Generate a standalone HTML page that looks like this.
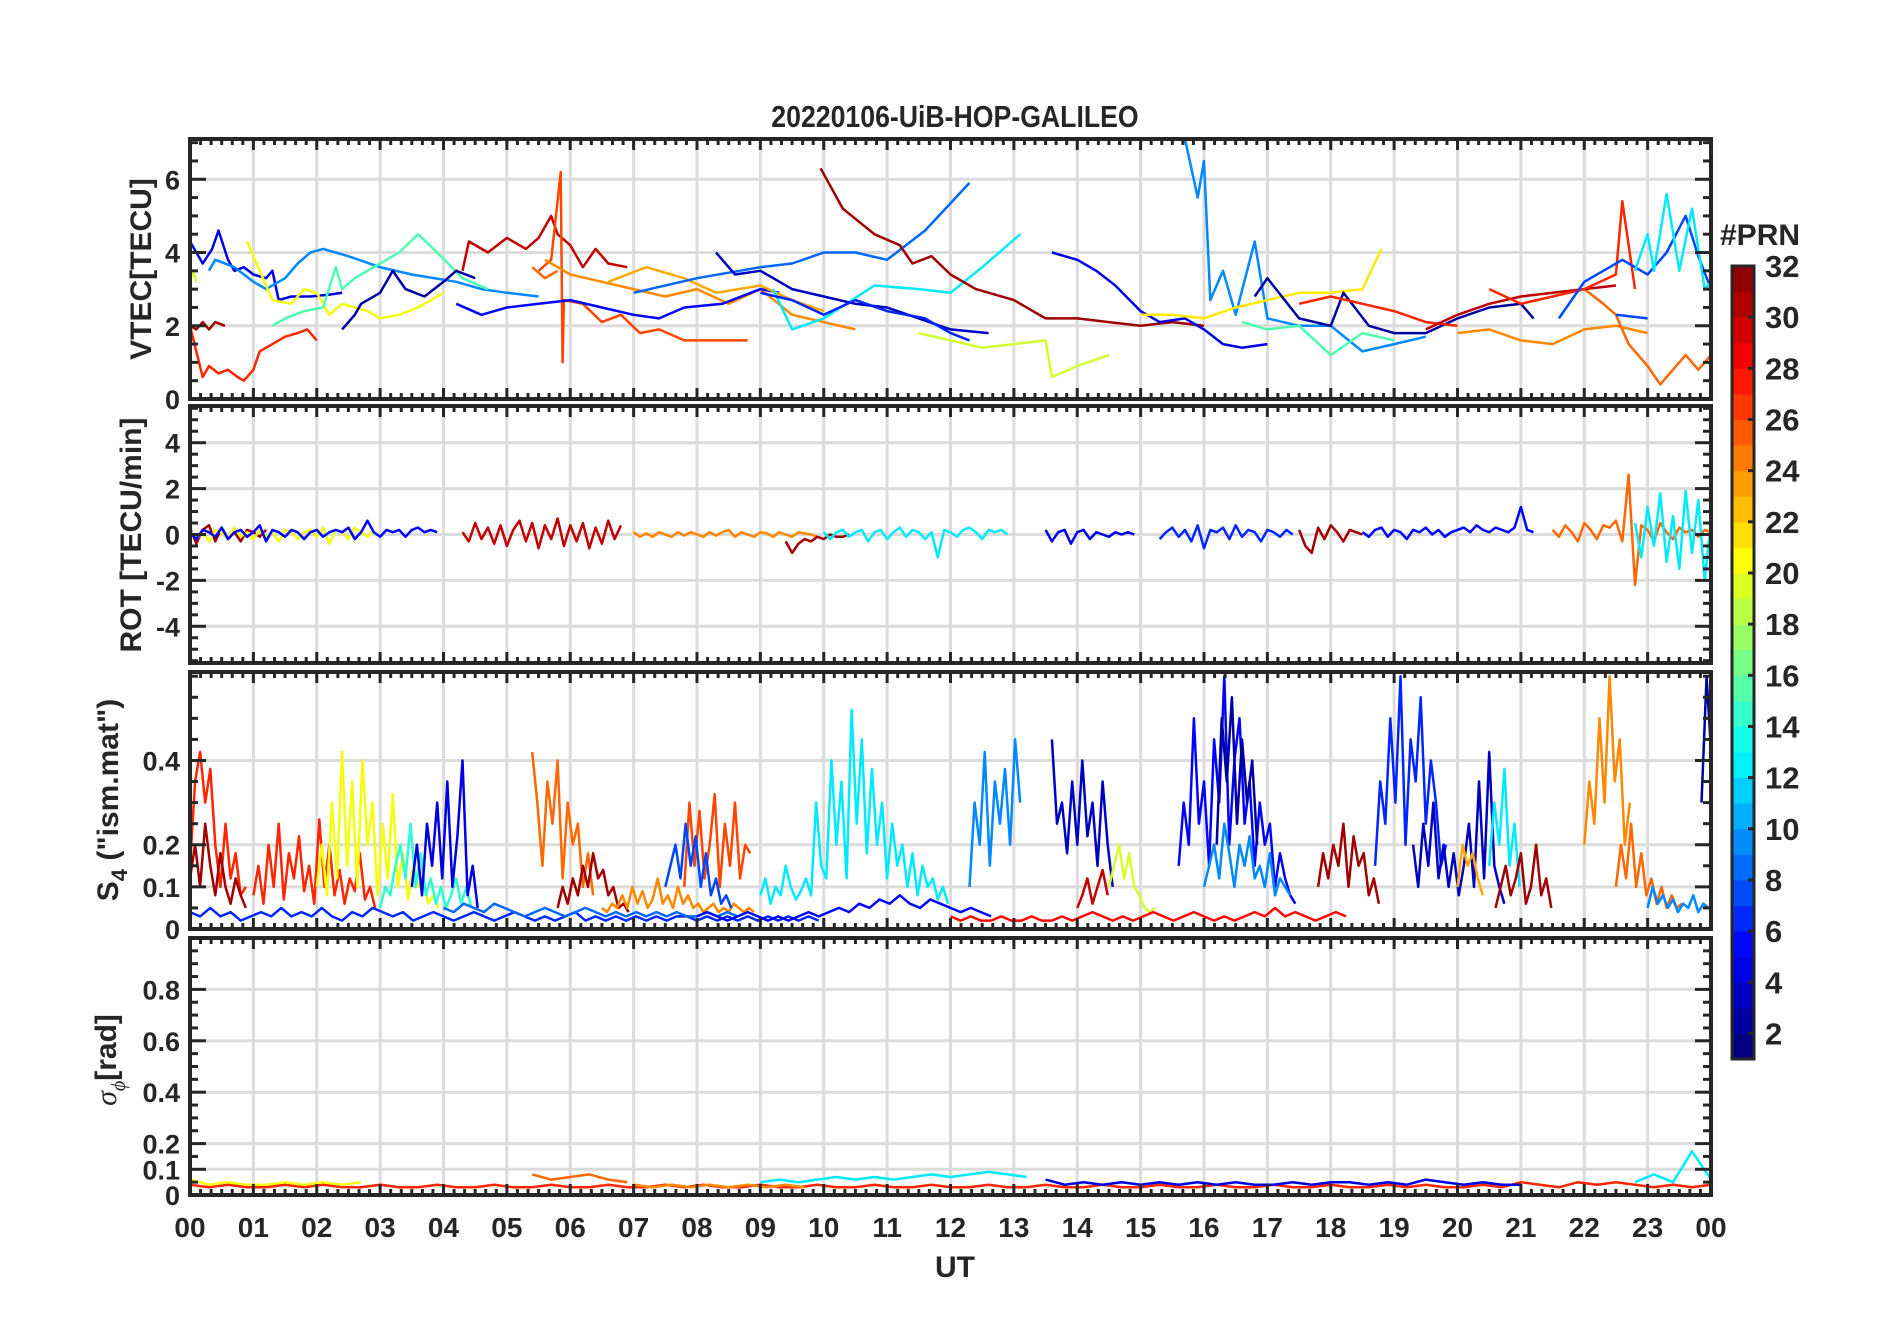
<!DOCTYPE html>
<html><head><meta charset="utf-8"><style>
html,body{margin:0;padding:0;background:#fff;}
svg text{font-family:"Liberation Sans",Arial,sans-serif;font-weight:bold;fill:#262626;}
</style></head><body>
<svg id="fig" width="1902" height="1330" viewBox="0 0 1902 1330" xmlns="http://www.w3.org/2000/svg">
<rect width="1902" height="1330" fill="#fff"/>
<text x="955" y="127" font-size="31" text-anchor="middle" transform="translate(955,0) scale(0.86,1) translate(-955,0)">20220106-UiB-HOP-GALILEO</text>
<g id="panels"></g>
<g id="cbar"></g>
<text x="955" y="1277" font-size="30" text-anchor="middle">UT</text>
</svg>
<script>
// ---------- chart data ----------
const hourLabels = ["00","01","02","03","04","05","06","07","08","09","10","11","12","13","14","15","16","17","18","19","20","21","22","23","00"];
const vtecTicks = [0,2,4,6];
const rotTicks = [-4,-2,0,2,4];
const s4Ticks = [0,0.1,0.2,0.4];
const sigTicks = [0,0.1,0.2,0.4,0.6,0.8];
const cbarTicks = [2,4,6,8,10,12,14,16,18,20,22,24,26,28,30,32];

// VTEC traces: PRN, hours, values
const vtecPrn = [31,27,4,9,20,15,19,2,30,26,25,24,5,23,8,12,31,3,6,19,4,9,21,2,15,27,24,25,30,27,7,12,7];
const vtecHours = [
[0,0.1,0.2,0.3,0.4,0.55],
[0,0.1,0.2,0.3,0.45,0.6,0.75,0.85,1.0,1.1,1.3,1.5,1.7,1.85,2.0],
[0,0.2,0.35,0.45,0.6,0.7,0.85,1.0,1.2,1.3,1.4,1.6,1.9,2.2,2.4],
[0.3,0.4,0.7,1.0,1.2,1.5,1.7,1.9,2.1,2.5,3.0,3.5,4.2,4.6,5.0,5.5],
[0.9,1.0,1.1,1.3,1.6,1.8,2.0,2.2,2.4,2.6,2.8,3.0,3.3,3.6,4.0],
[1.3,1.5,1.8,2.1,2.3,2.4,2.6,3.0,3.3,3.6,3.9,4.3,4.7],
[0,0.05,0.1],
[2.4,2.6,2.7,3.0,3.2,3.4,3.7,4.0,4.2,4.5],
[4.3,4.4,4.7,5.0,5.3,5.5,5.7,5.8,6.0,6.2,6.4,6.6,6.9],
[5.5,5.7,5.85,5.88,5.9,6.2,6.5,6.8,7.1,7.4,7.8,8.3,8.8],
[5.4,5.6,5.8],
[5.6,6.0,6.5,7.0,7.5,8.0,8.5,9.0,9.5,10.0,10.5],
[4.2,4.6,5.0,5.5,6.0,6.5,7.0,7.4,7.8,8.4,9.0,9.3],
[6.6,7.2,7.8,8.3,9.0,9.5,10.0],
[7.0,8.0,9.0,9.5,10.0,10.5,11.0,11.6,12.3],
[9.2,9.5,10.0,10.8,11.5,12.0,12.5,13.1],
[9.95,10.3,10.8,11.2,11.4,11.7,12.0,12.4,13.0,13.5,14.0,14.5,15.0,15.5,16.0],
[8.3,8.6,9.0,9.5,10.0,10.5,11.0,11.5,12.0,12.6],
[9.0,9.5,10.0,10.5,11.0,11.6,12.0,12.3],
[11.5,12.0,12.5,13.0,13.5,13.6,14.0,14.5],
[13.6,14.0,14.3,14.6,15.0,15.3,15.7,16.0,16.3,16.6,17.0],
[15.7,15.9,16.0,16.1,16.3,16.5,16.8,17.0,17.5,18.0,18.5,19.0,19.5],
[15.0,15.5,16.0,16.5,17.0,17.5,18.0,18.5,18.8],
[16.8,17.0,17.5,18.0,18.2,18.6,19.0,19.5,20.0,20.5,21.0,21.2],
[16.6,17.0,17.5,18.0,18.5,19.0],
[17.5,18.0,18.5,19.0,19.5,20.0],
[20.0,20.5,21.0,21.5,22.0,22.5,23.0],
[22.0,22.3,22.5,22.7,23.0,23.2,23.4,23.6,23.8,24.0],
[19.5,20.0,20.5,21.0,21.5,22.0,22.5],
[20.5,21.0,21.5,22.0,22.5,22.6,22.8],
[21.6,22.0,22.6,23.0,23.3,23.6,23.8,24.0],
[22.8,23.0,23.1,23.3,23.5,23.7,23.9,24.0],
[22.5,23.0]];
const vtecValues = [
[2.0,1.9,2.1,1.9,2.1,2.0],
[2.0,1.3,0.6,0.9,0.7,0.8,0.6,0.5,0.8,1.3,1.5,1.7,1.8,1.9,1.6],
[4.3,3.7,4.1,4.6,3.8,3.5,3.6,3.4,3.3,3.5,2.7,2.8,2.8,2.85,2.9],
[3.5,3.8,3.6,3.2,3.0,3.3,3.7,4.0,4.1,3.9,3.6,3.4,3.2,3.0,2.9,2.8],
[4.3,3.9,3.5,2.7,2.6,3.0,2.9,2.3,2.6,2.5,2.4,2.2,2.3,2.5,2.9],
[2.0,2.2,2.4,2.5,3.6,3.0,3.3,3.7,4.0,4.5,4.0,3.3,3.0],
[3.2,3.5,3.2],
[1.9,2.3,2.6,2.9,3.5,3.0,2.8,3.2,3.5,3.3],
[3.5,4.3,4.0,4.4,4.1,4.4,5.0,4.5,4.2,3.6,4.1,3.7,3.6],
[3.5,3.8,6.2,1.0,2.7,2.6,2.1,2.3,1.8,1.9,1.6,1.6,1.6],
[3.6,3.3,3.5],
[3.8,3.4,3.2,3.0,2.8,3.0,2.6,3.0,2.3,2.1,1.9],
[2.6,2.3,2.5,2.6,2.7,2.5,2.3,2.2,2.5,2.6,3.0,2.9],
[3.2,3.6,3.3,2.9,3.1,2.7,2.4],
[2.9,3.3,3.6,3.7,4.0,4.0,3.8,4.6,5.9],
[3.0,1.9,2.2,3.1,3.0,2.9,3.6,4.5],
[6.3,5.2,4.5,4.2,3.7,3.9,3.4,3.0,2.7,2.2,2.2,2.1,2.0,2.1,2.0],
[4.0,3.4,3.5,3.0,2.8,2.6,2.5,2.2,1.9,1.8],
[2.9,2.7,2.3,2.7,2.4,2.2,1.8,1.6],
[1.8,1.6,1.4,1.5,1.6,0.6,0.9,1.2],
[4.0,3.8,3.5,3.1,2.4,2.1,2.2,1.9,1.5,1.4,1.5],
[7.1,5.5,6.5,2.7,3.5,2.3,4.3,2.2,2.0,2.0,1.3,1.5,1.7],
[2.3,2.3,2.2,2.5,2.7,2.9,2.9,3.0,4.1],
[2.8,3.3,2.2,2.0,2.9,2.0,1.8,1.8,2.2,2.5,2.6,2.2],
[2.1,1.9,2.0,1.2,1.8,1.6],
[2.6,2.8,2.6,2.4,2.1,2.0],
[1.8,1.9,1.6,1.5,1.9,2.0,1.8],
[3.0,2.6,2.3,1.5,0.9,0.4,0.8,1.2,0.8,1.2],
[1.9,2.3,2.6,2.8,2.9,3.0,3.1],
[3.0,2.6,2.8,3.0,3.4,5.4,3.0],
[2.2,3.2,3.8,3.4,4.0,5.0,3.9,3.0],
[3.5,4.5,3.5,5.6,3.5,5.2,3.0,3.2],
[2.3,2.2]];

// ROT traces: PRN, start hour, step, values
const rotPrn = [31,20,5,30,24,31,12,4,6,31,5,25,12];
const rotStart = [0,0,0,4.3,7.0,9.4,10.0,13.5,15.3,17.5,18.5,21.5,22.8];
const rotStep = 0.1;
const rotValues = [
[0.3,-0.4,0.2,0.4,-0.3,0.3,-0.2,0.1,-0.3,0.2,0.1,-0.1,0.2],
[0.2,-0.2,0.1,-0.3,0.2,0.1,-0.2,0.3,-0.1,0.1,-0.2,0.2,-0.1,0.1,-0.3,0.2,0.1,-0.2,0.1,0.2,-0.1,0.3,-0.4,0.2,0.1,-0.2,0.3,0.1,-0.1,0.2],
[0.1,-0.2,0.2,0.1,-0.1,0.3,-0.2,0.1,0.2,-0.1,0.1,0.4,-0.3,0.2,0.1,-0.1,0.2,0.1,-0.2,0.1,0.2,-0.1,0.1,0.2,0.1,0.3,-0.2,0.1,0.6,0.1,-0.1,0.2,0.1,0.2,-0.1,0.2,0.3,0.1,0.2,0.1],
[0.1,-0.3,0.5,-0.2,0.3,-0.4,0.4,-0.5,0.2,0.6,-0.3,0.5,-0.6,0.4,-0.2,0.7,-0.5,0.4,-0.3,0.5,-0.6,0.3,-0.4,0.6,-0.2,0.4],
[0.1,-0.1,0.05,-0.1,0.1,0.0,-0.1,0.1,-0.05,0.1,0.0,-0.1,0.1,-0.05,0.1,0.2,-0.1,0.1,0.0,-0.1,0.1,0.05,-0.1,0.1,0.0,-0.1,0.1,0.05,0.0,-0.1],
[-0.3,-0.8,-0.4,-0.2,-0.3,-0.1,-0.2,0.0,-0.1,-0.1,0.0],
[0.1,-0.2,0.1,0.2,-0.1,0.1,0.2,-0.3,0.1,0.2,-0.2,0.1,0.3,-0.1,0.2,0.1,-0.2,0.1,-1.0,0.2,0.1,-0.1,0.2,0.3,0.1,-0.2,0.2,0.1,0.2,0.0],
[0.2,-0.3,0.1,0.2,-0.4,0.1,0.2,-0.2,0.1,0.0,-0.1,0.1,0.0,0.1,0.0],
[-0.2,0.1,0.3,-0.1,0.2,-0.3,0.4,-0.6,0.2,0.1,0.3,-0.2,0.4,-0.1,0.2,0.1,-0.3,0.2,0.1,-0.1,0.2,0.0],
[0.2,-0.5,-0.8,0.3,-0.2,0.4,0.1,-0.3,0.2,0.1,0.0],
[0.1,-0.1,0.2,0.3,-0.1,0.2,0.1,-0.2,0.2,0.1,0.3,0.0,0.2,-0.1,0.1,0.2,0.3,0.1,0.4,0.2,0.1,0.3,0.2,0.1,0.3,1.2,0.2,0.1],
[0.2,-0.1,0.4,0.1,-0.3,0.5,0.2,-0.2,0.4,0.3,0.6,-0.3,2.6,-2.2,0.4,0.2,-0.3,0.5,0.1,-0.2,0.3,0.1,0.2,-0.1,0.2,0.1],
[0.5,-1.0,1.2,-0.5,1.8,-1.2,0.8,-1.5,1.9,-0.8,1.5,-2.0,0.6,-3.8,1.0,-1.2,0.5]];

// S4 traces: PRN, start hour, step, values
const s4Prn = [27,31,27,20,14,4,6,25,31,24,26,7,12,9,3,19,30,5,2,9,31,6,3,23,12,31,24,25,2,9,8,5,28];
const s4Start = [0,0,1.0,2.0,3.0,3.5,0,5.4,5.8,6.5,7.8,7.5,9.0,12.3,13.6,14.5,14.0,15.6,16.2,16.0,17.8,18.7,19.3,20.0,20.5,20.6,22.0,22.5,23.85,23.0,4.0,8.0,12.0];
const s4Step = 0.08;
const s4Values = [
[0.15,0.35,0.42,0.3,0.38,0.2,0.1,0.25,0.12,0.18,0.08,0.1],
[0.12,0.2,0.1,0.25,0.15,0.08,0.18,0.1,0.06,0.12,0.08,0.05],
[0.08,0.15,0.06,0.2,0.1,0.25,0.07,0.18,0.12,0.22,0.09,0.15,0.06,0.26,0.1,0.2,0.08,0.14,0.06,0.12,0.09,0.18,0.07,0.1,0.05],
[0.1,0.2,0.08,0.3,0.12,0.42,0.15,0.35,0.1,0.4,0.2,0.3,0.08,0.25,0.12,0.32,0.1,0.18,0.07,0.15,0.1,0.12,0.06,0.08,0.05],
[0.05,0.1,0.08,0.15,0.2,0.12,0.25,0.1,0.18,0.08,0.12,0.06,0.1,0.05,0.08,0.12,0.06,0.1,0.05],
[0.1,0.2,0.08,0.25,0.15,0.3,0.12,0.35,0.1,0.22,0.4,0.08,0.15,0.05],
[0.04,0.03,0.05,0.03,0.04,0.02,0.03,0.04,0.03,0.05,0.03,0.04,0.03,0.05,0.03,0.02,0.04,0.03,0.05,0.04,0.03,0.04,0.02,0.03,0.04,0.03,0.02,0.03,0.04,0.03,0.02,0.03,0.04,0.03,0.02,0.03,0.02,0.03,0.04,0.02,0.03,0.02,0.03,0.02,0.03,0.02,0.03,0.02,0.03,0.03,0.02,0.03,0.02,0.03,0.02,0.03,0.02,0.03,0.02,0.03,0.02,0.03,0.02],
[0.42,0.3,0.15,0.35,0.25,0.4,0.12,0.3,0.2,0.25,0.1,0.18,0.08],
[0.05,0.1,0.06,0.12,0.08,0.15,0.1,0.18,0.12,0.14,0.08,0.1,0.05,0.06,0.04],
[0.05,0.04,0.06,0.05,0.08,0.05,0.1,0.06,0.09,0.05,0.07,0.12,0.06,0.08,0.05,0.1,0.06,0.08,0.05,0.06,0.04,0.05,0.06,0.04,0.05,0.04,0.06,0.05,0.04,0.05,0.04],
[0.1,0.3,0.15,0.28,0.12,0.2,0.32,0.1,0.25,0.15,0.3,0.12,0.2,0.18],
[0.1,0.15,0.2,0.12,0.25,0.15,0.22,0.1,0.18,0.08,0.12,0.06,0.08,0.05],
[0.08,0.12,0.06,0.1,0.08,0.15,0.1,0.07,0.09,0.12,0.08,0.3,0.15,0.12,0.4,0.2,0.35,0.12,0.52,0.25,0.45,0.18,0.38,0.2,0.3,0.12,0.25,0.15,0.2,0.1,0.18,0.08,0.15,0.1,0.12,0.07,0.1,0.06],
[0.1,0.3,0.2,0.42,0.15,0.35,0.25,0.38,0.2,0.45,0.3],
[0.45,0.25,0.3,0.18,0.35,0.2,0.4,0.22,0.3,0.15,0.35,0.2,0.1],
[0.1,0.15,0.2,0.12,0.18,0.1,0.08,0.05,0.04,0.05],
[0.05,0.08,0.12,0.06,0.1,0.14,0.08],
[0.15,0.3,0.2,0.5,0.25,0.35,0.15,0.45,0.3,0.6,0.2,0.4,0.5,0.25,0.35,0.15,0.3,0.2,0.25,0.1,0.18,0.12,0.08,0.06],
[0.2,0.5,0.35,0.55,0.25,0.45,0.3,0.4,0.2],
[0.1,0.15,0.2,0.12,0.25,0.18,0.1,0.2,0.15,0.22,0.12,0.15,0.1,0.18,0.08,0.12,0.1,0.08],
[0.1,0.18,0.12,0.2,0.15,0.25,0.1,0.22,0.15,0.18,0.08,0.12,0.06],
[0.15,0.35,0.25,0.5,0.3,0.6,0.2,0.45,0.35,0.55,0.25,0.4,0.3,0.15,0.2],
[0.2,0.1,0.25,0.15,0.3,0.12,0.2,0.1,0.18,0.08,0.15,0.25,0.1,0.35,0.12,0.42,0.15,0.1,0.06],
[0.1,0.2,0.15,0.18,0.12,0.08],
[0.15,0.3,0.2,0.38,0.15,0.25,0.1],
[0.05,0.1,0.15,0.08,0.12,0.18,0.06,0.1,0.2,0.08,0.12,0.05],
[0.2,0.35,0.25,0.5,0.3,0.6,0.35,0.45,0.2,0.3],
[0.1,0.2,0.12,0.25,0.1,0.18,0.08,0.12,0.06,0.1,0.05,0.08,0.05,0.06],
[0.3,0.6,0.4],
[0.05,0.1,0.06,0.08,0.05,0.07,0.04,0.06,0.05,0.08,0.04,0.06,0.05],
[0.05,0.04,0.06,0.05,0.04,0.06,0.05,0.04,0.03,0.04,0.05,0.04,0.03,0.04,0.05,0.04,0.03,0.04,0.03,0.04,0.03,0.04,0.03,0.04,0.03,0.03,0.04,0.03,0.04,0.03],
[0.03,0.04,0.03,0.02,0.03,0.04,0.03,0.02,0.03,0.02,0.03,0.04,0.03,0.04,0.05,0.04,0.06,0.05,0.07,0.06,0.08,0.06,0.05,0.07,0.06,0.05,0.04,0.05,0.04,0.03],
[0.03,0.02,0.03,0.02,0.02,0.03,0.02,0.02,0.03,0.02,0.02,0.03,0.02,0.03,0.04,0.03,0.02,0.03,0.02,0.03,0.04,0.03,0.02,0.03,0.04,0.03,0.02,0.03,0.02,0.03,0.04,0.03,0.05,0.03,0.04,0.03,0.02,0.03,0.04,0.03]];

// sigma-phi traces: PRN, start hour, step, values
const sigPrn = [27,20,12,25,4,24,12];
const sigStart = [0,0,9.0,5.4,13.5,7.0,22.8];
const sigStep = 0.3;
const sigValues = [
[0.04,0.03,0.04,0.03,0.03,0.04,0.03,0.04,0.03,0.03,0.04,0.03,0.03,0.04,0.03,0.03,0.04,0.03,0.03,0.04,0.03,0.03,0.04,0.03,0.03,0.04,0.03,0.04,0.03,0.03,0.04,0.03,0.03,0.04,0.03,0.03,0.04,0.03,0.03,0.04,0.03,0.03,0.04,0.03,0.03,0.04,0.03,0.03,0.04,0.03,0.03,0.04,0.03,0.03,0.04,0.03,0.03,0.04,0.03,0.03,0.04,0.03,0.03,0.04,0.03,0.04,0.03,0.03,0.04,0.03,0.05,0.04,0.03,0.05,0.04,0.05,0.04,0.03,0.04,0.03,0.04],
[0.06,0.04,0.05,0.04,0.04,0.05,0.04,0.05,0.04,0.05],
[0.05,0.06,0.05,0.06,0.07,0.06,0.07,0.06,0.07,0.08,0.07,0.08,0.09,0.08,0.07],
[0.08,0.06,0.07,0.08,0.06,0.05],
[0.06,0.04,0.05,0.04,0.05,0.04,0.05,0.04,0.05,0.04,0.05,0.04,0.04,0.05,0.04,0.05,0.05,0.04,0.05,0.04,0.06,0.05,0.04,0.05,0.04,0.04],
[0.04,0.03,0.04,0.03,0.04,0.03,0.04,0.03,0.04,0.03],
[0.05,0.08,0.05,0.17,0.06,0.09,0.05]];

// ---------- drawing ----------
const NS = "http://www.w3.org/2000/svg";
const X0 = 190, X1 = 1711;
const xs = h => X0 + h * (X1 - X0) / 24;
function jet(p){ const t = (p - 1) / 31;
  const c = v => Math.round(255 * Math.max(0, Math.min(1, v)));
  return `rgb(${c(1.5-Math.abs(4*t-3))},${c(1.5-Math.abs(4*t-2))},${c(1.5-Math.abs(4*t-1))})`; }
function mk(tag, attrs, parent){ const e = document.createElementNS(NS, tag);
  for (const k in attrs) e.setAttribute(k, attrs[k]); parent.appendChild(e); return e; }
const root = document.getElementById('panels');

const panels = [
 {name:'vtec', top:139, bot:399, min:0, max:7.1, ticks:vtecTicks, minor:0.5, fmt:v=>String(v)},
 {name:'rot', top:406, bot:663, min:-5.6, max:5.6, ticks:rotTicks, minor:0.5, fmt:v=>String(v)},
 {name:'s4', top:672, bot:929, min:0, max:0.61, ticks:s4Ticks, minor:0.05, fmt:v=>v===0?'0':String(v)},
 {name:'sigma', top:938, bot:1195, min:0, max:1.0, ticks:sigTicks, minor:0.05, fmt:v=>v===0?'0':String(v)}];

panels.forEach((P, pi) => {
  const g = mk('g', {}, root);
  
  
  P.ys = v => P.bot - (v - P.min) / (P.max - P.min) * (P.bot - P.top);
  const clipId = 'clip' + pi;
  const cp = mk('clipPath', {id: clipId}, g);
  mk('rect', {x: X0, y: P.top, width: X1 - X0, height: P.bot - P.top}, cp);
  for (let h = 1; h < 24; h++) mk('line', {x1: xs(h), x2: xs(h), y1: P.top, y2: P.bot, stroke: '#dcdcdc', 'stroke-width': 3}, g);
  P.ticks.forEach(v => { if (v !== P.min) mk('line', {x1: X0, x2: X1, y1: P.ys(v), y2: P.ys(v), stroke: '#dcdcdc', 'stroke-width': 3}, g); });
  P.data = mk('g', {'clip-path': `url(#${clipId})`}, g);
  P.axes = g;
});

function drawLine(P, prn, hs, vs){
  const pts = hs.map((h, i) => xs(h).toFixed(1) + ',' + P.ys(vs[i]).toFixed(1)).join(' ');
  const pl = mk('polyline', {points: pts, fill: 'none', stroke: jet(prn), 'stroke-width': 2.5, 'stroke-linejoin': 'round'}, P.data);
  
  
}
vtecPrn.forEach((p, i) => drawLine(panels[0], p, vtecHours[i], vtecValues[i]));
rotPrn.forEach((p, i) => drawLine(panels[1], p, rotValues[i].map((_, k) => rotStart[i] + k * rotStep), rotValues[i]));
s4Prn.forEach((p, i) => { const st = (i === 6 || i === 30 || i === 31 || i === 32) ? 0.16 : s4Step;
  drawLine(panels[2], p, s4Values[i].map((_, k) => s4Start[i] + k * st), s4Values[i]); });
sigPrn.forEach((p, i) => drawLine(panels[3], p, sigValues[i].map((_, k) => sigStart[i] + k * sigStep), sigValues[i]));

panels.forEach((P, pi) => {
  const g = P.axes, col = '#262626';
  for (let m = 0; m <= 144; m++) { const x = xs(m / 6), L = m % 6 === 0 ? 11 : 6;
    mk('line', {x1: x, x2: x, y1: P.top, y2: P.top + L, stroke: col, 'stroke-width': 3}, g);
    mk('line', {x1: x, x2: x, y1: P.bot, y2: P.bot - L, stroke: col, 'stroke-width': 3}, g); }
  for (let v = Math.ceil(P.min / P.minor) * P.minor; v <= P.max + 1e-9; v += P.minor) {
    const major = P.ticks.some(t => Math.abs(t - v) < 1e-6), L = major ? 16 : 8, y = P.ys(v);
    mk('line', {x1: X0, x2: X0 + L, y1: y, y2: y, stroke: col, 'stroke-width': 3}, g);
    mk('line', {x1: X1, x2: X1 - L, y1: y, y2: y, stroke: col, 'stroke-width': 3}, g); }
  const fr = mk('rect', {x: X0, y: P.top, width: X1 - X0, height: P.bot - P.top, fill: 'none', stroke: col, 'stroke-width': 4}, g);
  
  
  P.ticks.forEach(v => { const t = mk('text', {x: 180, y: P.ys(v) + 10, 'font-size': 27, 'text-anchor': 'end'}, g);
    t.textContent = P.fmt(v);
    
     });
});
hourLabels.forEach((l, i) => { const t = mk('text', {x: xs(i), y: 1237, 'font-size': 28, 'text-anchor': 'middle'}, root);
  t.textContent = l;
  
   });

function ytitle(name, x, y, html){ const t = mk('text', {x: x, y: y, 'font-size': 30, 'text-anchor': 'middle', transform: `rotate(-90 ${x} ${y})`}, root);
  t.innerHTML = html;
  
   }
ytitle('vtec-axis-title', 151, 269, 'VTEC[TECU]');
ytitle('rot-axis-title', 141, 535, 'ROT [TECU/min]');
ytitle('s4-axis-title', 118, 800, 'S<tspan font-size="22" dy="9">4</tspan><tspan dy="-9"> ("ism.mat")</tspan>');
ytitle('sigma-axis-title', 116, 1060, '<tspan font-style="italic" font-weight="normal" font-family="Liberation Serif">σ</tspan><tspan font-size="20" dy="9" font-style="italic" font-weight="normal" font-family="Liberation Serif">ϕ</tspan><tspan dy="-9">[rad]</tspan>');

const cb = document.getElementById('cbar');
const CBX = 1732, CBW = 22, CBT = 266, CBB = 1059;
const cy = v => CBB - (v - 1) / 31 * (CBB - CBT);
for (let p = 1; p <= 31; p++) mk('rect', {x: CBX, y: cy(p + 1), width: CBW, height: cy(p) - cy(p + 1) + 0.5, fill: jet(p + 0.5 * (p / 31))}, cb);
mk('rect', {x: CBX, y: CBT, width: CBW, height: CBB - CBT, fill: 'none', stroke: '#262626', 'stroke-width': 3}, cb);
cbarTicks.forEach(v => { const y = cy(v);
  mk('line', {x1: CBX + CBW - 6, x2: CBX + CBW, y1: y, y2: y, stroke: '#262626', 'stroke-width': 3}, cb);
  const t = mk('text', {x: 1765, y: y + 11, 'font-size': 31, 'font-weight': 'normal'}, cb);
  t.textContent = String(v);
  
   });
const ct = mk('text', {x: 1720, y: 245, 'font-size': 30}, cb);
ct.textContent = '#PRN';


</script>
</body></html>
